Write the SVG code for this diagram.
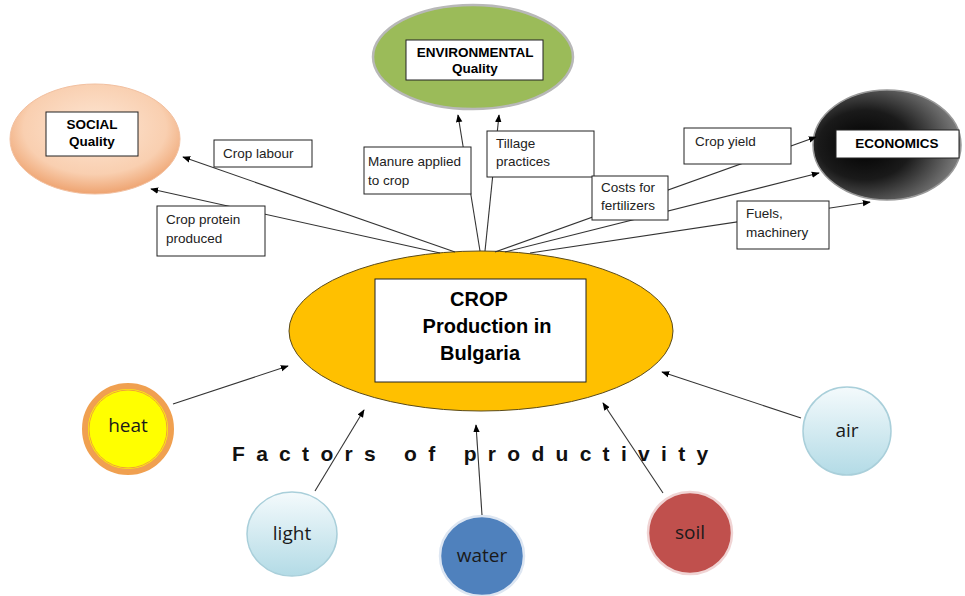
<svg xmlns="http://www.w3.org/2000/svg" width="965" height="596" viewBox="0 0 965 596">
<defs>
<radialGradient id="gSocial" cx="50%" cy="40%" r="60%"><stop offset="0" stop-color="#fde6d4"/><stop offset="0.7" stop-color="#f9cfb0"/><stop offset="1" stop-color="#eea370"/></radialGradient>
<radialGradient id="gEcon" cx="35%" cy="50%" r="70%"><stop offset="0" stop-color="#000"/><stop offset="0.45" stop-color="#1a1a1a"/><stop offset="1" stop-color="#8a8a8a"/></radialGradient>
<linearGradient id="gBlue" x1="0" y1="0" x2="0" y2="1"><stop offset="0" stop-color="#f4fafc"/><stop offset="1" stop-color="#b3dbe6"/></linearGradient>
<marker id="arr" viewBox="0 0 10 10" refX="9" refY="5" markerWidth="8" markerHeight="8" markerUnits="userSpaceOnUse" orient="auto"><path d="M0,1 L10,5 L0,9 z" fill="#000"/></marker>
</defs>
<style>
.lbl{font-family:"Liberation Sans",Arial,sans-serif;font-size:13.5px;fill:#222}
.ttl{font-family:"Liberation Sans",Arial,sans-serif;font-size:13.5px;font-weight:bold;fill:#000;text-anchor:middle}
.box{fill:#fff;stroke:#222;stroke-width:1}
.con{stroke:#333;stroke-width:1.1;fill:none;marker-end:url(#arr)}
.fac{font-family:"Open Sans","Liberation Sans",sans-serif;font-size:19px;fill:#1a1a1a;text-anchor:middle}
</style>
<rect width="965" height="596" fill="#fff"/>

<g id="social">
<ellipse cx="95" cy="139" rx="85" ry="55" fill="url(#gSocial)" stroke="#f2c0a0" stroke-width="1"/>
<rect class="box" x="46" y="112" width="92" height="44"/>
<text class="ttl" x="92" y="129">SOCIAL</text>
<text class="ttl" x="92" y="146">Quality</text>
</g>

<g id="environmental">
<ellipse cx="473" cy="57" rx="100" ry="52" fill="#9bbb59" stroke="#b8b8b8" stroke-width="2.5"/>
<rect class="box" x="406" y="40" width="137" height="40"/>
<text class="ttl" x="475" y="57">ENVIRONMENTAL</text>
<text class="ttl" x="475" y="73">Quality</text>
</g>

<g id="economics">
<ellipse cx="887" cy="145" rx="74" ry="55" fill="url(#gEcon)" stroke="#999" stroke-width="1.5"/>
<rect class="box" x="836" y="130" width="123" height="28"/>
<text class="ttl" x="897" y="148">ECONOMICS</text>
</g>

<g id="crop">
<ellipse cx="481" cy="331" rx="192" ry="80" fill="#ffc000" stroke="#5a4a1a" stroke-width="1"/>
<rect class="box" x="375" y="279" width="211" height="103"/>
<text font-family="Liberation Sans,Arial,sans-serif" font-size="20" font-weight="bold" text-anchor="middle" fill="#000"><tspan x="479" y="306">CROP</tspan><tspan x="487" y="333">Production in</tspan><tspan x="480" y="360">Bulgaria</tspan></text>
</g>

<g id="heat">
<circle cx="128" cy="429" r="43" fill="#ffff00" stroke="#f0a050" stroke-width="6"/>
<circle cx="128" cy="429" r="39" fill="none" stroke="#f2a23a" stroke-width="1"/>
<text class="fac" x="128" y="432">heat</text>
</g>
<g id="light">
<ellipse cx="292" cy="534" rx="45" ry="42" fill="url(#gBlue)" stroke="#a9cfda" stroke-width="1.5"/>
<text class="fac" x="292" y="540">light</text>
</g>
<g id="water">
<ellipse cx="482" cy="556" rx="42" ry="40" fill="#4f81bd" stroke="#dde6f2" stroke-width="2.5"/>
<text class="fac" x="482" y="562">water</text>
</g>
<g id="soil">
<ellipse cx="690" cy="533" rx="42" ry="41" fill="#c0504d" stroke="#f0d4d4" stroke-width="2.5"/>
<text class="fac" x="690" y="539">soil</text>
</g>
<g id="air">
<circle cx="847" cy="431" r="44" fill="url(#gBlue)" stroke="#a9cfda" stroke-width="1.5"/>
<text class="fac" x="847" y="437">air</text>
</g>

<g id="connectors">
<line class="con" x1="455" y1="252" x2="183" y2="157"/>
<line class="con" x1="440" y1="253" x2="151" y2="189"/>
<line class="con" x1="480" y1="251" x2="458" y2="115"/>
<line class="con" x1="485" y1="251" x2="499" y2="115"/>
<line class="con" x1="495" y1="252" x2="816" y2="137"/>
<line class="con" x1="505" y1="252" x2="819" y2="173"/>
<line class="con" x1="530" y1="253" x2="870" y2="202"/>
<line class="con" x1="173" y1="404" x2="288" y2="366"/>
<line class="con" x1="315" y1="491" x2="364" y2="410"/>
<line class="con" x1="482" y1="515" x2="476" y2="425"/>
<line class="con" x1="663" y1="493" x2="603" y2="403"/>
<line class="con" x1="801" y1="418" x2="662" y2="372"/>
</g>

<g id="lbl-crop-labour"><rect class="box" x="214" y="140" width="98" height="27"/><text class="lbl" x="223" y="158">Crop labour</text></g>
<g id="lbl-crop-protein"><rect class="box" x="157" y="206" width="108" height="50"/><text class="lbl"><tspan x="166" y="224">Crop protein</tspan><tspan x="166" y="243">produced</tspan></text></g>
<g id="lbl-manure"><rect class="box" x="364" y="147" width="107" height="47"/><text class="lbl"><tspan x="368" y="166">Manure applied</tspan><tspan x="368" y="185">to crop</tspan></text></g>
<g id="lbl-tillage"><rect class="box" x="487" y="131" width="107" height="46"/><text class="lbl"><tspan x="496" y="148">Tillage</tspan><tspan x="496" y="166">practices</tspan></text></g>
<g id="lbl-crop-yield"><rect class="box" x="684" y="128" width="107" height="36"/><text class="lbl" x="695" y="146">Crop yield</text></g>
<g id="lbl-costs"><rect class="box" x="592" y="176" width="76" height="44"/><text class="lbl"><tspan x="601" y="192">Costs for</tspan><tspan x="601" y="210">fertilizers</tspan></text></g>
<g id="lbl-fuels"><rect class="box" x="737" y="201" width="92" height="48"/><text class="lbl"><tspan x="746" y="218">Fuels,</tspan><tspan x="746" y="237">machinery</tspan></text></g>

<text id="factors" x="232" y="461" font-family="Liberation Sans,Arial,sans-serif" font-size="21" font-weight="bold" letter-spacing="11.3" fill="#111">Factors of productivity</text>
</svg>
